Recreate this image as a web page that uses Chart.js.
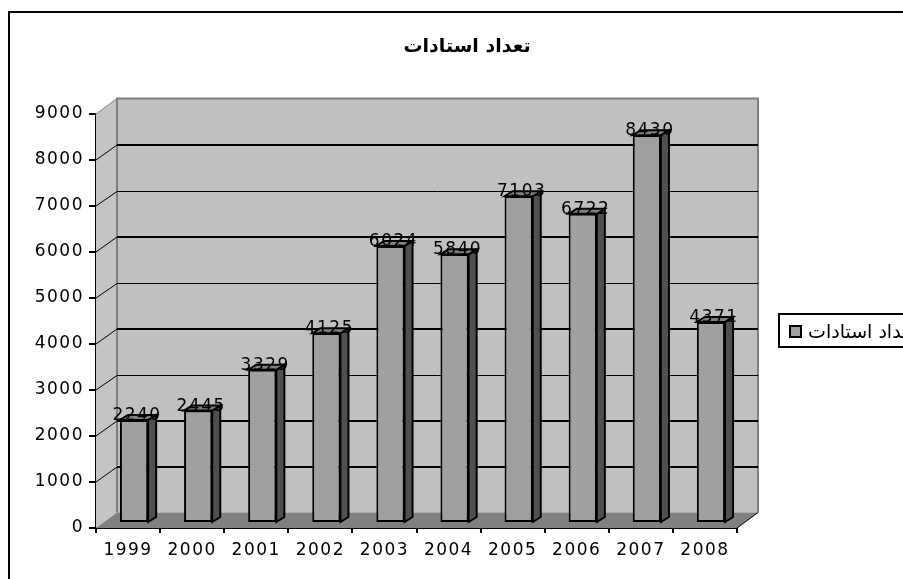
<!DOCTYPE html>
<html>
<head>
<meta charset="utf-8">
<style>
  html, body { margin: 0; padding: 0; background: #fff; overflow: hidden; }
  canvas { display: block; }
</style>
<script src="https://cdn.jsdelivr.net/npm/chart.js@4/dist/chart.umd.min.js"></script>
</head>
<body>
<canvas id="chart" width="903" height="579"></canvas>
<script>
const years = ['1999', '2000', '2001', '2002', '2003', '2004', '2005', '2006', '2007', '2008'];
const teachers = [2240, 2445, 3329, 4125, 6024, 5840, 7103, 6722, 8430, 4371];
const gridValues = [8000, 7000, 6000, 5000, 4000, 3000, 2000, 1000];
const gridWidths = [2, 1, 2, 1, 2, 1, 2, 2];
const titleText = 'تعداد استادات';

// the fake 3d: back wall is pushed right and up from the axes, bars a bit less
const wallX = 21, wallY = -15.5;
const barX = 6, barY = -5;
const sideX = 8, sideY = -5;

function poly(ctx, points, fill) {
    ctx.beginPath();
    points.forEach((p, i) => i ? ctx.lineTo(p[0], p[1]) : ctx.moveTo(p[0], p[1]));
    ctx.closePath();
    ctx.fillStyle = fill;
    ctx.fill();
}

const walls = {
    id: 'walls',
    beforeDraw(chart) {
        chart.ctx.letterSpacing = '1.5px';
    },
    beforeDatasetsDraw(chart) {
        const ctx = chart.ctx, y = chart.scales.y, a = chart.chartArea;
        const bottom = y.getPixelForValue(0), top = y.getPixelForValue(9000);
        ctx.save();
        poly(ctx, [[a.left, top], [a.left + wallX, top + wallY], [a.left + wallX, bottom + wallY], [a.left, bottom]], '#c4c4c4');
        poly(ctx, [[a.left + wallX, top + wallY], [a.right + wallX, top + wallY], [a.right + wallX, bottom + wallY], [a.left + wallX, bottom + wallY]], '#c0c0c0');
        poly(ctx, [[a.left, bottom], [a.left + wallX, bottom + wallY], [a.right + wallX, bottom + wallY], [a.right, bottom]], '#808080');

        ctx.strokeStyle = '#808080';
        ctx.lineWidth = 2;
        ctx.beginPath();
        ctx.moveTo(a.left + wallX, bottom + wallY);
        ctx.lineTo(a.left + wallX, top + wallY);
        ctx.lineTo(a.right + wallX, top + wallY);
        ctx.lineTo(a.right + wallX, bottom + wallY);
        ctx.stroke();
        ctx.lineWidth = 1;
        ctx.beginPath();
        ctx.moveTo(a.left, top);
        ctx.lineTo(a.left + wallX, top + wallY);
        ctx.stroke();

        ctx.strokeStyle = '#000';
        gridValues.forEach((v, i) => {
            const py = y.getPixelForValue(v);
            const back = Math.round(py + wallY) + (gridWidths[i] % 2 ? 0.5 : 0);
            ctx.lineWidth = gridWidths[i];
            ctx.beginPath();
            ctx.moveTo(a.left + wallX, back);
            ctx.lineTo(a.right + wallX, back);
            ctx.stroke();
            ctx.lineWidth = 1;
            ctx.beginPath();
            ctx.moveTo(a.left, py);
            ctx.lineTo(a.left + wallX, back);
            ctx.stroke();
        });

        // corner tick on the floor, right side
        ctx.beginPath();
        ctx.moveTo(a.right, bottom);
        ctx.lineTo(a.right + wallX, bottom + wallY);
        ctx.stroke();
        ctx.restore();
    },
    beforeDatasetDraw(chart) {
        chart.ctx.save();
        chart.ctx.translate(barX, barY);
    },
    afterDatasetDraw(chart) {
        chart.ctx.restore();
    },
    afterDatasetsDraw(chart) {
        const ctx = chart.ctx;
        ctx.save();
        chart.getDatasetMeta(0).data.forEach((bar, i) => {
            const left = bar.x - bar.width / 2 + barX, right = bar.x + bar.width / 2 + barX;
            const top = bar.y + barY, bottom = bar.base + barY;
            ctx.strokeStyle = '#000';
            ctx.lineWidth = 2;
            const side = [[right, top], [right + sideX, top + sideY], [right + sideX, bottom + sideY], [right, bottom]];
            const cap = [[left, top], [left + sideX, top + sideY], [right + sideX, top + sideY], [right, top]];
            poly(ctx, side, '#505050');
            ctx.stroke();
            poly(ctx, cap, '#808080');
            ctx.stroke();

            ctx.fillStyle = '#000';
            ctx.font = '17px "DejaVu Sans"';
            ctx.textAlign = 'center';
            ctx.textBaseline = 'alphabetic';
            ctx.fillText(teachers[i], bar.x + barX + 3, top);
        });
        ctx.restore();
    },
    afterDraw(chart) {
        const ctx = chart.ctx;
        ctx.save();
        ctx.letterSpacing = '0px';

        // outer frame, it runs off the picture to the right and bottom
        ctx.strokeStyle = '#000';
        ctx.lineWidth = 2;
        ctx.beginPath();
        ctx.moveTo(9, 579);
        ctx.lineTo(9, 12);
        ctx.lineTo(903, 12);
        ctx.stroke();

        ctx.fillStyle = '#000';
        ctx.direction = 'rtl';
        ctx.textBaseline = 'alphabetic';
        ctx.textAlign = 'center';
        ctx.font = 'bold 19px "DejaVu Sans"';
        ctx.fillText(titleText, 467, 52);

        // legend box is cut by the right edge as well
        ctx.strokeRect(779, 314, 140, 33);
        ctx.fillStyle = '#a0a0a0';
        ctx.fillRect(790, 326, 11, 11);
        ctx.strokeRect(790, 326, 11, 11);
        ctx.fillStyle = '#000';
        ctx.textAlign = 'left';
        ctx.font = '19px "DejaVu Sans"';
        ctx.fillText(titleText, 808, 338);
        ctx.restore();
    }
};

new Chart(document.getElementById('chart').getContext('2d'), {
    type: 'bar',
    data: {
        labels: years,
        datasets: [{
            label: titleText,
            data: teachers,
            backgroundColor: '#a0a0a0',
            borderColor: '#000',
            borderWidth: 2,
            borderSkipped: false,
            categoryPercentage: 1,
            barPercentage: 0.44
        }]
    },
    options: {
        responsive: false,
        animation: false,
        layout: { padding: { top: 114, right: 166, left: 0, bottom: 0 } },
        plugins: {
            legend: { display: false },
            title: { display: false },
            tooltip: { enabled: false }
        },
        scales: {
            x: {
                afterFit(scale) { scale.height = 51; },
                border: { color: '#000', width: 2 },
                grid: { offset: true, drawOnChartArea: false, color: '#000', lineWidth: 2, tickLength: 5 },
                ticks: { color: '#000', font: { family: '"DejaVu Sans"', size: 17 }, padding: 7, maxRotation: 0, autoSkip: false }
            },
            y: {
                min: 0,
                max: 9000,
                afterFit(scale) { scale.width = 96; },
                border: { color: '#000', width: 2 },
                grid: { drawOnChartArea: false, color: '#000', lineWidth: 2, tickLength: 7 },
                ticks: { color: '#000', font: { family: '"DejaVu Sans"', size: 17 }, stepSize: 1000, padding: 5, callback: v => String(v) }
            }
        }
    },
    plugins: [walls]
});
</script>
</body>
</html>
